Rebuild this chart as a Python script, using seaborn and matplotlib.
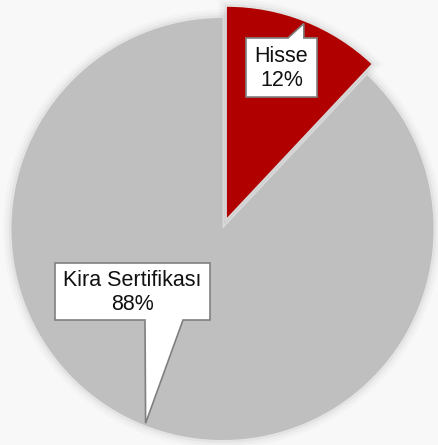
import numpy as np
import matplotlib.pyplot as plt
import seaborn as sns
from matplotlib.patches import Polygon, Wedge

# Veriler
labels = ['Hisse', 'Kira Sertifikası']
shares = [12, 88]
colors = ['#b00000', '#bfbfbf']

sns.set_theme(style='white')
plt.rcParams['font.family'] = ['Liberation Sans', 'DejaVu Sans']

BG = '#f8f8f9'
R = 211.0  # pie radius in pixels


def px(x, y):
    # pixel position -> data position
    return ((x - 222.5) / R, (229 - y) / R)


fig = plt.figure(figsize=(4.38, 4.45), dpi=100, facecolor=BG)
ax = fig.add_axes([0, 0, 1, 1])
ax.set_facecolor(BG)

wedges, _ = ax.pie(shares, colors=colors, startangle=90, counterclock=False,
                   explode=[0.057, 0], radius=1,
                   wedgeprops=dict(linewidth=0, zorder=3))

# yumusak golge
for w in wedges:
    for lw, a in [(12, 0.018), (8, 0.025), (4, 0.04)]:
        sh = Wedge(w.center, w.r, w.theta1, w.theta2, facecolor='none',
                   edgecolor='black', linewidth=lw, alpha=a, zorder=1)
        ax.add_patch(sh)

# etiket kutulari (kutu merkezi, genislik, yukseklik, ok tabani) - piksel
boxes = [
    dict(c=(281.5, 67.5), w=71, h=59, side='top', base=(288, None)),
    dict(c=(132.5, 291.5), w=155, h=57, side='bottom', base=(183, 145)),
]

for w, lab, val, b in zip(wedges, labels, shares, boxes):
    mid = np.deg2rad((w.theta1 + w.theta2) / 2)
    tip = (w.center[0] + 0.99 * w.r * np.cos(mid),
           w.center[1] + 0.99 * w.r * np.sin(mid))
    cx, cy = b['c']
    x0, x1 = cx - b['w'] / 2, cx + b['w'] / 2
    y0, y1 = cy - b['h'] / 2, cy + b['h'] / 2
    tipx = tip[0] * R + 222.5
    if b['side'] == 'top':
        pts = [(x0, y0), (b['base'][0], y0), (tipx, 229 - tip[1] * R),
               (tipx, y0), (x1, y0), (x1, y1), (x0, y1)]
    else:
        pts = [(x0, y0), (x1, y0), (x1, y1), (b['base'][0], y1),
               (tipx, 229 - tip[1] * R), (b['base'][1], y1), (x0, y1)]
    poly = Polygon([px(*p) for p in pts], closed=True, facecolor='white',
                   edgecolor='#808080', linewidth=1.2, zorder=5)
    ax.add_patch(poly)
    ax.text(*px(cx, cy + 1), f'{lab}\n{val}%', ha='center', va='center',
            fontsize=15.5, color='#111111', linespacing=1.2, zorder=6)

ax.set_xlim(-222.5 / R, (438 - 222.5) / R)
ax.set_ylim(-(445 - 229) / R, 229 / R)
ax.set_aspect('auto')
ax.axis('off')

fig.savefig('out.png', dpi=100, facecolor=BG)
